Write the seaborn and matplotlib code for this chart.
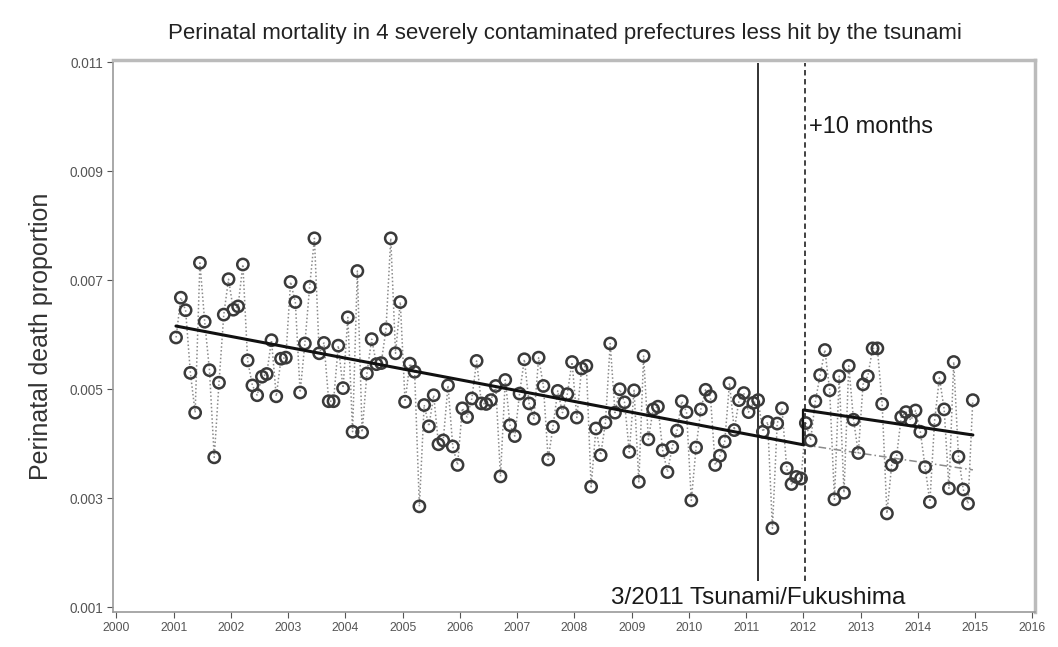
import numpy as np
import pandas as pd
import matplotlib
matplotlib.use("Agg")
import matplotlib.pyplot as plt
import seaborn as sns

# ---- data (monthly perinatal death proportion, Jan 2001 - Dec 2014) ----
years = list(range(2001, 2015))
v2001 = [0.00595, 0.00668, 0.00645, 0.00530, 0.00457, 0.00732, 0.00624, 0.00535, 0.00375, 0.00512, 0.00637, 0.00702]
v2002 = [0.00646, 0.00652, 0.00729, 0.00553, 0.00507, 0.00489, 0.00523, 0.00528, 0.00590, 0.00487, 0.00556, 0.00558]
v2003 = [0.00697, 0.00660, 0.00494, 0.00584, 0.00688, 0.00777, 0.00566, 0.00585, 0.00478, 0.00478, 0.00580, 0.00502]
v2004 = [0.00632, 0.00422, 0.00717, 0.00421, 0.00529, 0.00592, 0.00546, 0.00548, 0.00610, 0.00777, 0.00566, 0.00660]
v2005 = [0.00477, 0.00547, 0.00532, 0.00285, 0.00471, 0.00432, 0.00489, 0.00399, 0.00406, 0.00507, 0.00395, 0.00361]
v2006 = [0.00465, 0.00449, 0.00483, 0.00552, 0.00474, 0.00473, 0.00480, 0.00506, 0.00340, 0.00517, 0.00434, 0.00414]
v2007 = [0.00492, 0.00555, 0.00474, 0.00446, 0.00558, 0.00506, 0.00371, 0.00431, 0.00497, 0.00457, 0.00491, 0.00550]
v2008 = [0.00448, 0.00538, 0.00543, 0.00321, 0.00428, 0.00379, 0.00439, 0.00584, 0.00457, 0.00500, 0.00476, 0.00385]
v2009 = [0.00498, 0.00330, 0.00561, 0.00408, 0.00463, 0.00468, 0.00388, 0.00348, 0.00394, 0.00424, 0.00478, 0.00458]
v2010 = [0.00296, 0.00393, 0.00463, 0.00499, 0.00487, 0.00361, 0.00378, 0.00404, 0.00511, 0.00425, 0.00480, 0.00493]
v2011 = [0.00458, 0.00475, 0.00480, 0.00422, 0.00440, 0.00245, 0.00437, 0.00465, 0.00355, 0.00326, 0.00339, 0.00336]
v2012 = [0.00438, 0.00406, 0.00478, 0.00526, 0.00572, 0.00498, 0.00298, 0.00524, 0.00310, 0.00543, 0.00444, 0.00383]
v2013 = [0.00509, 0.00524, 0.00575, 0.00575, 0.00473, 0.00272, 0.00361, 0.00375, 0.00449, 0.00458, 0.00443, 0.00461]
v2014 = [0.00422, 0.00357, 0.00293, 0.00443, 0.00521, 0.00463, 0.00318, 0.00550, 0.00376, 0.00316, 0.00290, 0.00480]

# fitted trend lines (start / end)
trend_pre_x = [2001.04, 2012.0]
trend_pre_y = [0.00616, 0.00398]
trend_post_x = [2012.0, 2014.96]
trend_post_y = [0.00462, 0.00416]
extrap_x = [2012.0, 2014.96]
extrap_y = [0.00398, 0.00352]

tsunami_x = 2011.21
plus10_x = 2012.03

xticks = list(range(2000, 2017))
yticks = [0.001, 0.003, 0.005, 0.007, 0.009, 0.011]

title = "Perinatal mortality in 4 severely contaminated prefectures less hit by the tsunami"
ylabel = "Perinatal death proportion"
label_tsunami = "3/2011 Tsunami/Fukushima"
label_plus10 = "+10 months"

# ---- build frame ----
vals = (v2001 + v2002 + v2003 + v2004 + v2005 + v2006 + v2007 + v2008 +
        v2009 + v2010 + v2011 + v2012 + v2013 + v2014)
dates = [y + (m + 0.5) / 12 for y in years for m in range(12)]
df = pd.DataFrame({"t": dates, "p": vals})

sns.set_theme(style="white")
plt.rcParams["font.family"] = ["Liberation Sans", "DejaVu Sans"]

fig = plt.figure(figsize=(10.58, 6.47), dpi=100)
ax = fig.add_axes([0.1068, 0.054, 0.8712, 0.853])

sns.lineplot(data=df, x="t", y="p", ax=ax, color="#8a8a8a", linestyle=(0, (1, 1.5)),
             linewidth=1.1, estimator=None, sort=False, zorder=2)
sns.scatterplot(data=df, x="t", y="p", ax=ax, marker="o", s=66,
                facecolor="none", edgecolor="#3a3a3a", linewidth=1.8, zorder=4)

sns.lineplot(x=extrap_x, y=extrap_y, ax=ax, color="#8a8a8a", linestyle=(0, (5, 2, 1, 2)),
             linewidth=1.1, zorder=3)
sns.lineplot(x=trend_pre_x, y=trend_pre_y, ax=ax, color="#111111", linewidth=2.2, zorder=5)
sns.lineplot(x=trend_post_x, y=trend_post_y, ax=ax, color="#111111", linewidth=2.2, zorder=5)
ax.vlines(trend_post_x[0], trend_pre_y[1], trend_post_y[0], color="#111111", linewidth=1.6, zorder=5)

ax.vlines(tsunami_x, 0.00148, 0.01098, color="#222222", linewidth=1.3, zorder=3)
ax.vlines(plus10_x, 0.00148, 0.01098, color="#333333", linewidth=1.3,
          linestyles=(0, (3, 2)), zorder=3)

ax.text(tsunami_x, 0.00117, label_tsunami, ha="center", va="center",
        fontsize=17.5, color="#1a1a1a")
ax.text(plus10_x + 0.07, 0.00982, label_plus10, ha="left", va="center",
        fontsize=17, color="#1a1a1a")

ax.set_xlim(1999.94, 2016.04)
ax.set_ylim(0.00091, 0.01104)
ax.set_xticks(xticks)
ax.set_xticklabels([str(x) for x in xticks])
ax.set_yticks(yticks)
ax.set_yticklabels([f"{y:.3f}" for y in yticks])
ax.tick_params(axis="both", colors="#555555", length=4, width=0.8,
               direction="out", bottom=True, left=True, pad=3)
ax.tick_params(axis="x", labelsize=8.8)
ax.tick_params(axis="y", labelsize=9.8)
ax.set_xlabel("")
ax.set_ylabel(ylabel, fontsize=18, color="#333333", labelpad=12)
fig.suptitle(title, x=0.534, y=0.965, fontsize=16, color="#222222")

for s in ["left", "bottom", "right", "top"]:
    ax.spines[s].set_color("#999999")
    ax.spines[s].set_linewidth(1.2)
ax.spines["top"].set_linewidth(2.5)
ax.spines["top"].set_color("#bbbbbb")
ax.spines["right"].set_linewidth(2.5)
ax.spines["right"].set_color("#bbbbbb")

fig.savefig("out.png", dpi=100)
